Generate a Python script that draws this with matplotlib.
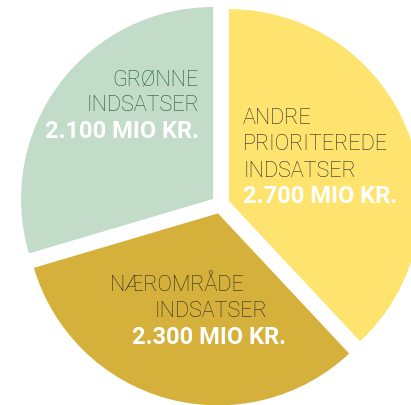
import matplotlib
matplotlib.use("Agg")
import matplotlib.pyplot as plt

# values in mio kr.
names = ["ANDRE\nPRIORITEREDE\nINDSATSER", "NÆROMRÅDE\nINDSATSER", "GRØNNE\nINDSATSER"]
values = [2700, 2300, 2100]
colors = ["#FEE46F", "#D5B13C", "#C3DCCA"]
name_colors = ["#2B2B26", "#2B2B26", "#1D5A3A"]

W, H = 411, 406
fig = plt.figure(figsize=(W / 100, H / 100), dpi=100)
ax = fig.add_axes([0, 0, 1, 1])

cx, cy, r = 220.4, H - 205.5, 192
ax.pie(values, colors=colors, startangle=90, counterclock=False,
       center=(cx, cy), radius=r, explode=[9.2] * len(values),
       wedgeprops=dict(linewidth=0))
ax.set_xlim(0, W)
ax.set_ylim(0, H)
ax.set_aspect("equal")
ax.axis("off")

plt.rcParams["font.family"] = ["Roboto", "DejaVu Sans"]

def amount(v):
    return f"{v:,}".replace(",", ".") + " MIO KR."

# label placement: (x, first baseline, alignment, per-line x offsets)
line_h = 26.4
places = [
    (243, 124, "left", [0, 0, 0]),
    (None, 291, "left", [110, 154]),
    (199, 85, "right", [0, 0]),
]
amount_x = [243, 132, 199]
for i, (x, y0, ha, xs) in enumerate(places):
    lines = names[i].split("\n")
    for j, line in enumerate(lines):
        lx = xs[j] if x is None else x
        ax.text(lx, H - (y0 + j * line_h), line, ha=ha, va="baseline",
                fontsize=15.6, fontweight="light", color=name_colors[i])
    ax.text(amount_x[i], H - (y0 + len(lines) * line_h), amount(values[i]),
            ha=ha, va="baseline", fontsize=17, fontweight="bold", color="white")

fig.savefig("out.png", dpi=100, facecolor="white")
